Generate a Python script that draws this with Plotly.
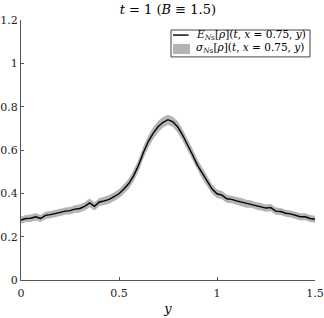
import plotly.graph_objects as go

y_pos = [0.000, 0.025, 0.050, 0.075, 0.100, 0.125, 0.150, 0.175, 0.200, 0.225,
         0.250, 0.275, 0.300, 0.325, 0.350, 0.375, 0.400, 0.425, 0.450, 0.475,
         0.500, 0.525, 0.550, 0.575, 0.600, 0.625, 0.650, 0.675, 0.700, 0.725,
         0.750, 0.775, 0.800, 0.825, 0.850, 0.875, 0.900, 0.925, 0.950, 0.975,
         1.000, 1.025, 1.050, 1.075, 1.100, 1.125, 1.150, 1.175, 1.200, 1.225,
         1.250, 1.275, 1.300, 1.325, 1.350, 1.375, 1.400, 1.425, 1.450, 1.475,
         1.500]
mean_rho = [0.277, 0.284, 0.285, 0.292, 0.284, 0.298, 0.302, 0.306, 0.312, 0.318,
            0.320, 0.327, 0.330, 0.340, 0.356, 0.340, 0.360, 0.365, 0.372, 0.385,
            0.398, 0.420, 0.445, 0.482, 0.530, 0.590, 0.640, 0.678, 0.708, 0.728,
            0.740, 0.730, 0.706, 0.668, 0.625, 0.578, 0.530, 0.492, 0.455, 0.420,
            0.398, 0.392, 0.375, 0.372, 0.365, 0.360, 0.352, 0.350, 0.342, 0.338,
            0.332, 0.334, 0.318, 0.316, 0.308, 0.305, 0.300, 0.292, 0.292, 0.284,
            0.280]
std_rho = [0.016, 0.016, 0.017, 0.017, 0.016, 0.017, 0.017, 0.017, 0.017, 0.017,
           0.017, 0.018, 0.018, 0.019, 0.020, 0.019, 0.019, 0.019, 0.020, 0.020,
           0.021, 0.022, 0.024, 0.026, 0.027, 0.028, 0.028, 0.027, 0.026, 0.024,
           0.023, 0.024, 0.026, 0.027, 0.028, 0.028, 0.027, 0.026, 0.024, 0.022,
           0.020, 0.019, 0.019, 0.018, 0.018, 0.018, 0.018, 0.017, 0.017, 0.017,
           0.017, 0.017, 0.017, 0.016, 0.016, 0.016, 0.016, 0.016, 0.016, 0.016,
           0.016]
y_ticks = [0, 0.5, 1, 1.5]
y_tick_text = ["0", "0.5", "1", "1.5"]
v_ticks = [0, 0.2, 0.4, 0.6, 0.8, 1.0, 1.2]
v_tick_text = ["0", "0.2", "0.4", "0.6", "0.8", "1", "1.2"]
mean_label = "<i>E</i><sub><i>N</i>s</sub>[<i>ρ</i>](<i>t</i>, <i>x</i> = 0.75, <i>y</i>)"
std_label = "<i>σ</i><sub><i>N</i>s</sub>[<i>ρ</i>](<i>t</i>, <i>x</i> = 0.75, <i>y</i>)"

FONT = "DejaVu Serif"
BAND = "#b4b4b4"
lower = [m - s for m, s in zip(mean_rho, std_rho)]
upper = [m + s for m, s in zip(mean_rho, std_rho)]

fig = go.Figure()
fig.add_trace(go.Scatter(x=y_pos, y=lower, mode="lines", line=dict(width=0, color=BAND),
                         showlegend=False, hoverinfo="skip"))
fig.add_trace(go.Scatter(x=y_pos, y=upper, mode="lines", line=dict(width=0, color=BAND),
                         fill="tonexty", fillcolor=BAND, showlegend=False, name=std_label))
fig.add_trace(go.Scatter(x=y_pos, y=mean_rho, mode="lines", line=dict(width=1.4, color="black"),
                         showlegend=False, name=mean_label))

# hand-built legend box (paper coordinates)
fig.add_shape(type="rect", xref="paper", yref="paper", x0=0.5102, x1=0.983, y0=0.858, y1=0.9615,
              line=dict(color="#444444", width=1), fillcolor="white", layer="above")
fig.add_shape(type="line", xref="paper", yref="paper", x0=0.517, x1=0.570, y0=0.942, y1=0.942,
              line=dict(color="black", width=1.4), layer="above")
fig.add_shape(type="rect", xref="paper", yref="paper", x0=0.517, x1=0.575, y0=0.869, y1=0.908,
              line=dict(width=0), fillcolor=BAND, layer="above")
fig.add_annotation(xref="paper", yref="paper", x=0.588, y=0.944, text=mean_label, showarrow=False,
                   xanchor="left", yanchor="middle", font=dict(family=FONT, size=10.5, color="black"))
fig.add_annotation(xref="paper", yref="paper", x=0.588, y=0.891, text=std_label, showarrow=False,
                   xanchor="left", yanchor="middle", font=dict(family=FONT, size=10.5, color="black"))

axis_common = dict(showline=True, linecolor="#555555", linewidth=1, ticks="inside", ticklen=3,
                   tickcolor="#555555", showgrid=False, zeroline=False, automargin=False,
                   tickfont=dict(family=FONT, size=11, color="#222222"))
fig.update_layout(
    width=324, height=318,
    margin=dict(l=21, r=9, t=20, b=38),
    paper_bgcolor="white", plot_bgcolor="white",
    title=dict(text="<i>t</i> = 1 (<i>B</i> ≡ 1.5)", x=0.518, xanchor="center", y=0.985, yanchor="top",
               font=dict(family=FONT, size=13, color="black")),
    xaxis=dict(range=[0, 1.5], tickvals=y_ticks, ticktext=y_tick_text, ticklabelstandoff=3,
               title=dict(text="<i>y</i>", font=dict(family=FONT, size=13, color="black"), standoff=4),
               **axis_common),
    yaxis=dict(range=[0, 1.2], tickvals=v_ticks, ticktext=v_tick_text, **axis_common),
    showlegend=False,
)
fig.write_html("out.html", config={"displayModeBar": False},
               post_script="document.body.style.margin='0';")
